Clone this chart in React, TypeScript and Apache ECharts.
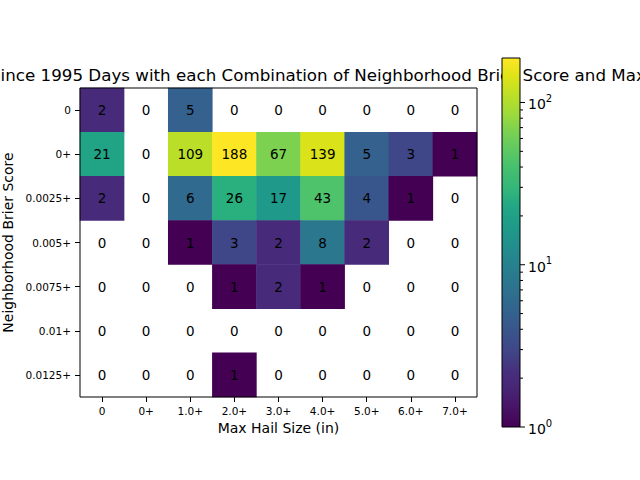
import React, { useEffect, useRef } from 'react';
import * as echarts from 'echarts';

const xCategories = ['0', '0+', '1.0+', '2.0+', '3.0+', '4.0+', '5.0+', '6.0+', '7.0+'];
const yCategories = ['0', '0+', '0.0025+', '0.005+', '0.0075+', '0.01+', '0.0125+'];

const rowZero = [2, 0, 5, 0, 0, 0, 0, 0, 0];
const rowZeroPlus = [21, 0, 109, 188, 67, 139, 5, 3, 1];
const row0025 = [2, 0, 6, 26, 17, 43, 4, 1, 0];
const row005 = [0, 0, 1, 3, 2, 8, 2, 0, 0];
const row0075 = [0, 0, 0, 1, 2, 1, 0, 0, 0];
const row01 = [0, 0, 0, 0, 0, 0, 0, 0, 0];
const row0125 = [0, 0, 0, 1, 0, 0, 0, 0, 0];
const counts = [rowZero, rowZeroPlus, row0025, row005, row0075, row01, row0125];

const colorbarMin = 1;
const colorbarMax = 188;
const colorbarMajorTicks = [1, 10, 100];
const colorbarMinorTicks = [2, 3, 4, 5, 6, 7, 8, 9, 20, 30, 40, 50, 60, 70, 80, 90];

const titleText = 'Since 1995 Days with each Combination of Neighborhood Brier Score and Max Hail Size';
const xAxisTitle = 'Max Hail Size (in)';
const yAxisTitle = 'Neighborhood Brier Score';

const FONT = 'DejaVu Sans';

const viridisStops = [
  '#440154', '#471365', '#482475', '#472f7d', '#414487', '#3b528b', '#355f8d',
  '#2f6c8e', '#2a788e', '#25848e', '#21918c', '#1e9c89', '#22a884', '#35b779',
  '#44bf70', '#5ec962', '#7ad151', '#9fda3a', '#bddf26', '#dfe318', '#fde725',
];

function logNorm(v: number): number {
  return (Math.log(v) - Math.log(colorbarMin)) / (Math.log(colorbarMax) - Math.log(colorbarMin));
}

export default function App() {
  const ref = useRef<HTMLDivElement>(null);

  useEffect(() => {
    if (!ref.current) return;
    const chart = echarts.init(ref.current, undefined, { renderer: 'svg' });

    const heatData: any[] = [];
    const zeroData: any[] = [];
    counts.forEach((row, r) => {
      row.forEach((v, c) => {
        if (v > 0) heatData.push([c, r, v, logNorm(v)]);
        else zeroData.push([c, r, v]);
      });
    });

    const gradStops = viridisStops.map((col, i) => ({ offset: i / (viridisStops.length - 1), color: col }));

    const tickData: any[] = [
      ...colorbarMajorTicks.map((v) => [1, v, 1]),
      ...colorbarMinorTicks.map((v) => [1, v, 0]),
    ];

    const CELL_FONT = 13.5;

    const option: any = {
      animation: false,
      backgroundColor: '#fff',
      textStyle: { fontFamily: FONT },
      graphic: [
        {
          type: 'text',
          x: -10,
          y: 75,
          z: 0,
          style: {
            text: titleText,
            fontSize: 16.7,
            fontFamily: FONT,
            fill: '#000',
            verticalAlign: 'middle',
            align: 'left',
          },
        },
      ],
      visualMap: {
        show: false,
        type: 'continuous',
        seriesIndex: 0,
        dimension: 3,
        min: 0,
        max: 1,
        inRange: { color: viridisStops },
      },
      grid: [
        {
          left: 80, top: 88, width: 397, height: 309,
          containLabel: false, outerBoundsMode: 'none',
          show: true, borderColor: '#000', borderWidth: 1, backgroundColor: 'transparent', z: 5,
        },
        {
          left: 502, top: 58, width: 18, height: 369, show: false,
          containLabel: false, outerBoundsMode: 'none',
        },
      ],
      xAxis: [
        {
          type: 'category',
          gridIndex: 0,
          data: xCategories,
          axisLine: { show: false },
          axisTick: { show: true, alignWithLabel: true, length: 5, interval: 0, lineStyle: { color: '#000' } },
          axisLabel: { interval: 0, fontSize: 10.5, color: '#000', fontFamily: FONT, margin: 8 },
          splitLine: { show: false },
          name: xAxisTitle,
          nameLocation: 'middle',
          nameGap: 24,
          nameTextStyle: { fontSize: 14, color: '#000', fontFamily: FONT },
        },
        { type: 'value', gridIndex: 1, min: 0, max: 1, show: false },
      ],
      yAxis: [
        {
          type: 'category',
          gridIndex: 0,
          data: yCategories,
          inverse: true,
          axisLine: { show: false },
          axisTick: { show: true, alignWithLabel: true, length: 5, interval: 0, lineStyle: { color: '#000' } },
          axisLabel: { interval: 0, fontSize: 10.5, color: '#000', fontFamily: FONT, margin: 9 },
          splitLine: { show: false },
          name: yAxisTitle,
          nameLocation: 'middle',
          nameRotate: 90,
          nameGap: 63,
          nameTextStyle: { fontSize: 14, color: '#000', fontFamily: FONT },
        },
        { type: 'log', gridIndex: 1, min: colorbarMin, max: colorbarMax, logBase: 10, show: false },
      ],
      series: [
        {
          type: 'heatmap',
          xAxisIndex: 0,
          yAxisIndex: 0,
          data: heatData,
          label: {
            show: true,
            formatter: (p: any) => String(p.value[2]),
            color: '#000',
            fontSize: CELL_FONT,
            fontFamily: FONT,
          },
          emphasis: { disabled: true },
        },
        {
          type: 'custom',
          xAxisIndex: 0,
          yAxisIndex: 0,
          data: zeroData,
          encode: { x: 0, y: 1 },
          renderItem: (params: any, api: any) => {
            const p = api.coord([api.value(0), api.value(1)]);
            return {
              type: 'text',
              x: p[0],
              y: p[1],
              style: {
                text: String(api.value(2)),
                align: 'center',
                verticalAlign: 'middle',
                fontSize: CELL_FONT,
                fontFamily: FONT,
                fill: '#000',
              },
            };
          },
          z: 3,
        },
        {
          type: 'custom',
          xAxisIndex: 1,
          yAxisIndex: 1,
          data: [[0, colorbarMin, 1, colorbarMax]],
          encode: { x: [0, 2], y: [1, 3] },
          renderItem: (params: any, api: any) => {
            const p0 = api.coord([api.value(0), api.value(1)]);
            const p1 = api.coord([api.value(2), api.value(3)]);
            return {
              type: 'rect',
              shape: { x: p0[0], y: p1[1], width: p1[0] - p0[0], height: p0[1] - p1[1] },
              style: {
                fill: new echarts.graphic.LinearGradient(0, 1, 0, 0, gradStops),
                stroke: '#000',
                lineWidth: 1,
              },
            };
          },
          z: 3,
        },
        {
          type: 'custom',
          xAxisIndex: 1,
          yAxisIndex: 1,
          data: tickData,
          encode: { x: 0, y: 1 },
          renderItem: (params: any, api: any) => {
            const p = api.coord([api.value(0), api.value(1)]);
            const major = api.value(2) === 1;
            const len = major ? 5 : 3;
            const children: any[] = [
              {
                type: 'line',
                shape: { x1: p[0], y1: p[1], x2: p[0] + len, y2: p[1] },
                style: { stroke: '#000', lineWidth: 1 },
              },
            ];
            if (major) {
              const exp = Math.round(Math.log10(api.value(1)));
              children.push({
                type: 'text',
                x: p[0] + 8,
                y: p[1],
                style: {
                  text: `{b|10}{s|${exp}}`,
                  verticalAlign: 'middle',
                  align: 'left',
                  fill: '#000',
                  rich: {
                    b: { fontSize: 14, fontFamily: FONT, fill: '#000', lineHeight: 18, verticalAlign: 'bottom' },
                    s: { fontSize: 10, fontFamily: FONT, fill: '#000', lineHeight: 12, verticalAlign: 'top' },
                  },
                },
              });
            }
            return { type: 'group', children };
          },
          z: 3,
        },
      ],
    };

    chart.setOption(option);
    return () => chart.dispose();
  }, []);

  return <div ref={ref} style={{ position: 'fixed', left: 0, top: 0, width: 640, height: 480 }} />;
}
